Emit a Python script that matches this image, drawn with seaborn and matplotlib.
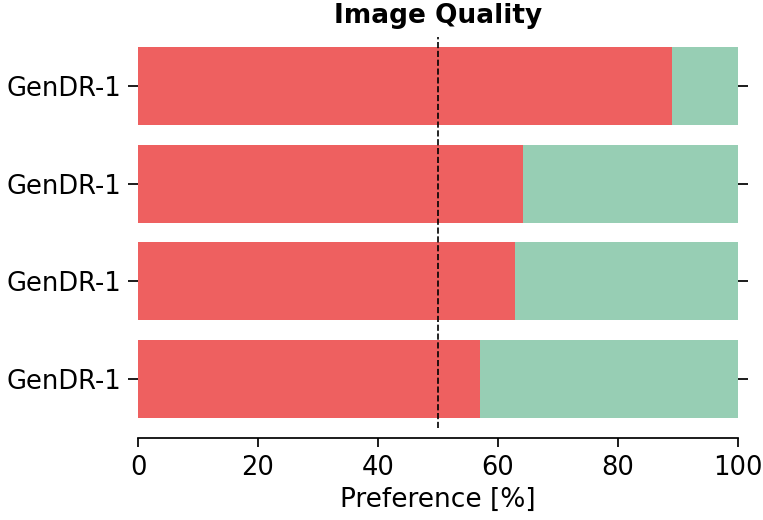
import matplotlib
matplotlib.use("Agg")
import matplotlib.pyplot as plt
import seaborn as sns
import pandas as pd

models = ["GenDR-1", "GenDR-1", "GenDR-1", "GenDR-1"]
ours_pref = [89, 64.2, 62.9, 57]
total = [100, 100, 100, 100]
x_ticks = [0, 20, 40, 60, 80, 100]

sns.set_theme(style="ticks", rc={
    "text.color": "black", "axes.labelcolor": "black",
    "xtick.color": "black", "ytick.color": "black",
    "axes.edgecolor": "black",
})
plt.rcParams['font.family'] = ['DejaVu Sans']

df = pd.DataFrame({
    "row": [f"r{i}" for i in range(len(models))],
    "model": models,
    "ours": ours_pref,
    "total": total,
})

fig = plt.figure(figsize=(7.63, 5.20), dpi=100)
ax = fig.add_axes([138/763, 1 - 428/520, 600/763, 391/520])

sns.barplot(data=df, y="row", x="total", color="#97CEB4", saturation=1,
            width=0.8, ax=ax, orient="h", linewidth=0, edgecolor="none")
sns.barplot(data=df, y="row", x="ours", color="#EE6060", saturation=1,
            width=0.8, ax=ax, orient="h", linewidth=0, edgecolor="none")

ax.axvline(50, color="black", linestyle="--", linewidth=1.2)
ax.set_xlim(0, 100)
ax.set_ylim(3.5, -0.5)
ax.set_xticks(x_ticks)
ax.set_xticklabels([str(t) for t in x_ticks])
ax.set_yticks(range(len(models)))
ax.set_yticklabels(models)
ax.set_ylabel("")
ax.set_xlabel("Preference [%]", fontsize=19, labelpad=4)
ax.set_title("Image Quality", fontsize=19, fontweight="bold", pad=10)

ax.tick_params(axis="y", left=True, right=True, length=7, width=1.25, labelsize=18.5, pad=5)
ax.tick_params(axis="x", length=6.5, width=1.25, labelsize=18.5, pad=6)
sns.despine(ax=ax, left=True, right=True, top=True, offset={"bottom": 7})
ax.spines["bottom"].set_linewidth(1.25)

fig.savefig("out.png", dpi=100)
